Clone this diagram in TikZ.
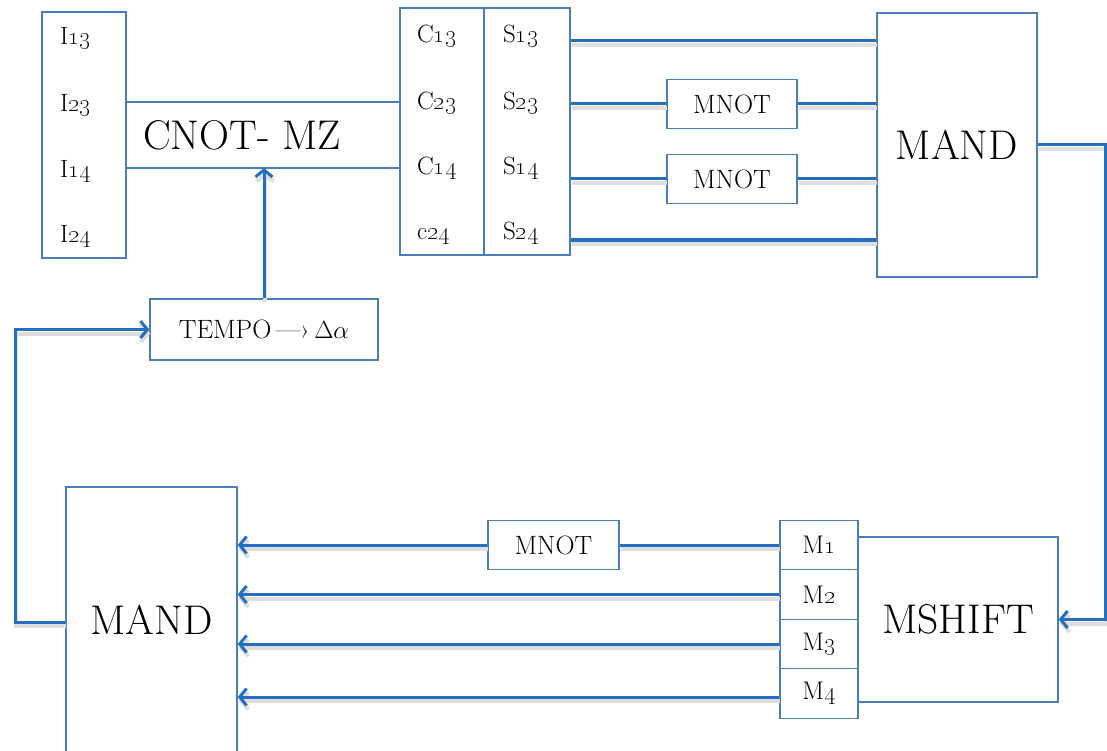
\documentclass[tikz,border=0pt]{standalone}
\usetikzlibrary{arrows.meta}
\definecolor{boxblue}{RGB}{74,126,187}
\definecolor{wireblue}{RGB}{38,110,192}
\tikzset{
  blk/.style={draw=boxblue, line width=1.3pt, fill=white, inner sep=0pt},
  lbl/.style={inner sep=0pt, anchor=base west, font=\fontsize{25}{29}\selectfont},
  big/.style={font=\fontsize{41.5}{48}\selectfont},
  mid/.style={font=\fontsize{26.5}{30}\selectfont},
  small/.style={font=\fontsize{25.5}{29}\selectfont},
  shad/.style={preaction={draw=black!13, line width=4pt, transform canvas={shift={(1,4)}}}},
  wire/.style={draw=wireblue, line width=3pt, shad},
  thin/.style={draw=boxblue, line width=1.3pt},
  arr/.style={wire, -{Straight Barb[length=7pt,width=17pt]}}
}
\begin{document}
\begin{tikzpicture}[x=1pt,y=-1pt]
\useasboundingbox (0,0) rectangle (1107,751);
% top row blocks
\node[blk, minimum width=84pt, minimum height=246pt] (I) at (84,135) {};
\node[blk, minimum width=84pt, minimum height=247pt] (C) at (442,131.5) {};
\node[blk, minimum width=86pt, minimum height=247pt] (S) at (527,131.5) {};
\node[blk, minimum width=160pt, minimum height=264pt, big] (MA) at (957,145) {MAND};
\node[blk, minimum width=130pt, minimum height=49pt, mid] (N1) at (732,104) {MNOT};
\node[blk, minimum width=130pt, minimum height=49pt, mid] (N2) at (732,179) {MNOT};
% labels
\node[lbl] (i1) at (60,45) {I\oldstylenums{13}};
\node[lbl] (i2) at (60,112) {I\oldstylenums{23}};
\node[lbl] (i3) at (60,178) {I\oldstylenums{14}};
\node[lbl] (i4) at (60,243) {I\oldstylenums{24}};
\node[lbl] (c1) at (417,43) {C\oldstylenums{13}};
\node[lbl] (c2) at (417,110) {C\oldstylenums{23}};
\node[lbl] (c3) at (417,175) {C\oldstylenums{14}};
\node[lbl] (c4) at (417,240) {c\oldstylenums{24}};
\node[lbl] (s1) at (503,43) {S\oldstylenums{13}};
\node[lbl] (s2) at (503,110) {S\oldstylenums{23}};
\node[lbl] (s3) at (503,175) {S\oldstylenums{14}};
\node[lbl] (s4) at (503,240) {S\oldstylenums{24}};
% CNOT-MZ
\coordinate (t1) at (126,102);
\coordinate (t2) at (126,168);
\draw[thin] (I.east |- t1) -- (C.west |- t1);
\draw[thin] (I.east |- t2) -- (C.west |- t2);
\node[big, inner sep=0pt] (cn) at (242,135) {CNOT- MZ};
% TEMPO
\node[blk, minimum width=228pt, minimum height=61pt, mid] (TP) at (264,329.5) {TEMPO\,—›\,$\Delta\alpha$};
% wires top
\coordinate (r1) at (0,41);
\coordinate (r4) at (0,240);
\draw[wire] (S.east |- r1) -- (MA.west |- r1);
\draw[wire] (S.east |- N1) -- (N1.west);
\draw[wire] (N1.east) -- (MA.west |- N1);
\draw[wire] (S.east |- N2) -- (N2.west);
\draw[wire] (N2.east) -- (MA.west |- N2);
\draw[wire] (S.east |- r4) -- (MA.west |- r4);
% bottom blocks
\node[blk, minimum width=171pt, minimum height=266pt, big] (MB) at (151.5,620) {MAND};
\node[blk, minimum width=200pt, minimum height=165pt, big] (MS) at (958,619.5) {MSHIFT};
\node[blk, minimum width=131pt, minimum height=49pt, mid] (N3) at (553.5,545) {MNOT};
\node[blk, minimum width=78pt, minimum height=49.5pt, small] (M1) at (819,545) {M\oldstylenums{1}};
\node[blk, minimum width=78pt, minimum height=49.5pt, small] (M2) at (819,594.5) {M\oldstylenums{2}};
\node[blk, minimum width=78pt, minimum height=49.5pt, small] (M3) at (819,644) {M\oldstylenums{3}};
\node[blk, minimum width=78pt, minimum height=49.5pt, small] (M4) at (819,693.5) {M\oldstylenums{4}};
% bottom wires
\draw[wire] (M1.west) -- (N3.east);
\draw[arr] (N3.west) -- (MB.east |- N3);
\draw[arr] (M2.west) -- (MB.east |- M2);
\draw[arr] (M3.west) -- (MB.east |- M3);
\coordinate (r8) at (0,697);
\draw[arr] (M4.west |- r8) -- (MB.east |- r8);
% loops
\draw[arr] (TP.north) -- (TP.north |- t2);
\coordinate (lf) at (15,622);
\draw[arr] (MB.west |- lf) -- (lf) -- (lf |- TP.west) -- (TP.west);
\coordinate (rt) at (1105,145);
\draw[arr] (MA.east |- rt) -- (rt) -- (rt |- MS.east) -- (MS.east);
\end{tikzpicture}
\end{document}
